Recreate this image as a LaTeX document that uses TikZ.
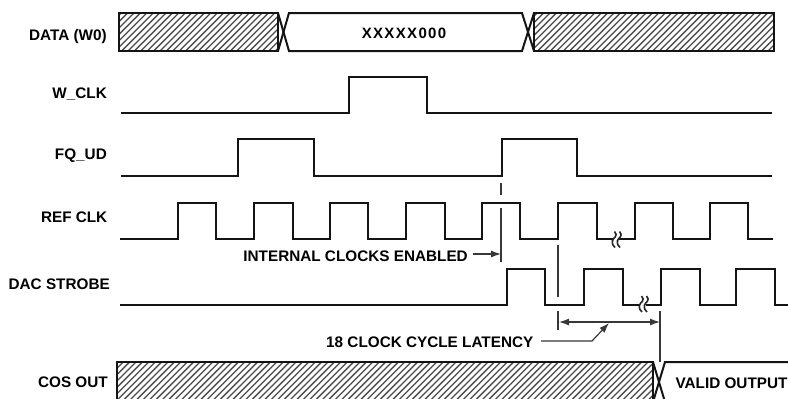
\documentclass[tikz,border=0pt]{standalone}
\usepackage{fontspec}
\setmainfont{Liberation Sans}
\usetikzlibrary{arrows.meta}
\tikzset{
  x=1pt,y=-1pt,
  wave/.style={line width=2pt,line join=miter,line cap=butt,black!92},
  thin line/.style={line width=1.2pt,black!78},
  hatchline/.style={line width=1.3pt,black!70},
  lab/.style={font=\fontsize{15.3}{15.3}\selectfont\bfseries,inner sep=0pt,text=black,text height=11pt,text depth=0pt},
  tip/.style={-{Latex[length=10pt,width=7pt]}},
  tips/.style={{Latex[length=10pt,width=7pt]}-{Latex[length=10pt,width=7pt]}},
  squiggle/.style={line width=1.6pt,black!85},
}
\newcommand{\hatchbox}[4]{%
  \begin{scope}
    \clip (#1,#2) rectangle (#3,#4);
    \foreach \k in {-20,...,130} {
      \draw[hatchline] ({\k*6.4},#4) -- ({\k*6.4+(#4-#2)},#2);
    }
  \end{scope}
}
\begin{document}
\begin{tikzpicture}
\useasboundingbox (0,0) rectangle (788,399);
% DATA
\hatchbox{119}{13}{278}{51}
\hatchbox{534}{13}{774}{51}
\draw[wave] (119,13) rectangle (278,51);
\draw[wave] (534,13) rectangle (774,51);
\draw[wave] (278,13) -- (289,51) -- (522,51) -- (534,13);
\draw[wave] (278,51) -- (289,13) -- (522,13) -- (534,51);
\node[lab,anchor=east] (data) at (107,34.7) {DATA (W0)};
\node[lab,font=\fontsize{15}{15}\selectfont\bfseries\addfontfeature{LetterSpace=9}] (xword) at (404,32.7) {XXXXX000};
% W_CLK
\draw[wave] (121,113) -- (349,113) -- (349,77) -- (427,77) -- (427,113) -- (772,113);
\node[lab,anchor=east] (wclk) at (107,92.7) {W\_CLK};
% FQ_UD
\draw[wave] (121,176) -- (238,176) -- (238,139) -- (314,139) -- (314,176) -- (502,176) -- (502,139) -- (577,139) -- (577,176) -- (772,176);
\node[lab,anchor=east] (fqud) at (107,153.8) {FQ\_UD};
% REF CLK
\draw[wave] (120,239) -- (178,239) -- (178,203) -- (216,203) -- (216,239)
  -- (254,239) -- (254,203) -- (293,203) -- (293,239)
  -- (330,239) -- (330,203) -- (368,203) -- (368,239)
  -- (406,239) -- (406,203) -- (445,203) -- (445,239)
  -- (482,239) -- (482,203) -- (520,203) -- (520,239)
  -- (558,239) -- (558,203) -- (597,203) -- (597,239)
  -- (635,239) -- (635,203) -- (673,203) -- (673,239)
  -- (710,239) -- (710,203) -- (748,203) -- (748,239) -- (773,239);
\node[lab,anchor=east] (refclk) at (107.5,217) {REF CLK};
% DAC STROBE
\draw[wave] (120,305) -- (507,305) -- (507,269) -- (545,269) -- (545,305)
  -- (584,305) -- (584,269) -- (623,269) -- (623,305)
  -- (661,305) -- (661,269) -- (700,269) -- (700,305)
  -- (736,305) -- (736,269) -- (775,269) -- (775,305) -- (788,305);
\node[lab,anchor=east] (dac) at (110,283.7) {DAC STROBE};
% breaks
\fill[white] (613,236) rectangle (618.5,243);
\fill[white] (640,302) rectangle (645.5,309);
\foreach \bx/\by in {611/248,638/312.5}{
  \draw[squiggle] (\bx+3.5,\by-16.5) .. controls (\bx+8,\by-12) and (\bx+2,\by-10) .. (\bx+1.5,\by-7.5) .. controls (\bx+1,\by-4) and (\bx+2,\by-2) .. (\bx+4,\by-0.5)
    (\bx+8.5,\by-16.5) .. controls (\bx+13,\by-12) and (\bx+7,\by-10) .. (\bx+6.5,\by-7.5) .. controls (\bx+6,\by-4) and (\bx+7,\by-2) .. (\bx+9,\by-0.5);
}
% COS OUT
\hatchbox{118}{362}{653}{402}
\draw[wave] (653,404) -- (653,362) -- (117,362) -- (117,404);
\draw[wave] (653,362) -- (665,402) (653,402) -- (665,362) -- (788,362);
\node[lab,anchor=east] (cos) at (108,382) {COS OUT};
\node[lab] (valid) at (731.5,382.5) {VALID OUTPUT};
% annotations
\coordinate (a1) at (501,183); \coordinate (a2) at (501,195);
\coordinate (a3) at (501,208); \coordinate (a4) at (501,262);
\draw[thin line] (a1) -- (a2) (a3) -- (a4);
\coordinate (b1) at (558,245); \coordinate (b2) at (558,297);
\coordinate (b3) at (558,311); \coordinate (b4) at (558,330);
\draw[thin line] (b1) -- (b2) (b3) -- (b4);
\coordinate (c1) at (660,311); \coordinate (c2) at (660,362);
\draw[thin line] (c1) -- (c2);
\node[lab,anchor=east] (ice) at (468,255.7) {INTERNAL CLOCKS ENABLED};
\coordinate (ia) at (473,254); \coordinate (ib) at (501,254);
\draw[thin line,tip] (ia) -- (ib);
\coordinate (la) at (559,322); \coordinate (lb) at (660,322);
\draw[thin line,tips] (la) -- (lb);
\node[lab,anchor=west] (lat) at (326,341.7) {18 CLOCK CYCLE LATENCY};
\coordinate (l1) at (541,341); \coordinate (l2) at (592,341); \coordinate (l3) at (609,323);
\draw[thin line,tip] (l1) -- (l2) -- (l3);
\end{tikzpicture}
\end{document}
